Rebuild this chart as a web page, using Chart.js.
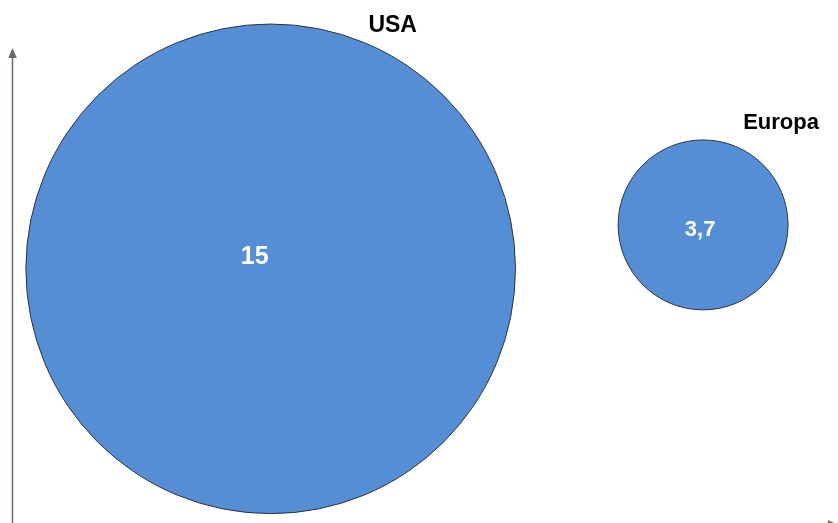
<!DOCTYPE html>
<html>
<head>
<meta charset="utf-8">
<script src="https://cdn.jsdelivr.net/npm/chart.js@4"></script>
<style>
  body { margin: 0; background: #fff; }
  #wrap { width: 838px; height: 523px; }
</style>
</head>
<body>
<div id="wrap"><canvas id="chart"></canvas></div>
<script>
const regions = ["USA", "Europa"];
const values = [15, 3.7];
const valueLabels = ["15", "3,7"];
const xPos = [32.3, 83.9];
const yPos = [48.6, 57.0];

// bubble radius grows with value
function radiusFor(v) {
  return 31.6 * Math.pow(v, 0.756);
}

const points = regions.map((name, i) => ({
  x: xPos[i],
  y: yPos[i],
  r: radiusFor(values[i])
}));

// name and value text offsets from the bubble centre (px)
const nameOffsets = [[122, -237], [78, -96]];
const valueOffsets = [[-16, -5], [-3, 11]];
const nameFonts = ["bold 23px 'Liberation Sans', Arial, sans-serif", "bold 22px 'Liberation Sans', Arial, sans-serif"];
const valueFonts = ["bold 25px 'Liberation Sans', Arial, sans-serif", "bold 22px 'Liberation Sans', Arial, sans-serif"];

const axisArrows = {
  id: "axisArrows",
  beforeDatasetsDraw(c) {
    const ctx = c.ctx;
    ctx.save();
    ctx.strokeStyle = "#6d6862";
    ctx.fillStyle = "#6d6862";
    ctx.lineWidth = 1.5;
    // y axis
    ctx.beginPath();
    ctx.moveTo(12.5, 523);
    ctx.lineTo(12.5, 56);
    ctx.stroke();
    ctx.beginPath();
    ctx.moveTo(12.5, 48);
    ctx.lineTo(8.2, 58);
    ctx.lineTo(16.8, 58);
    ctx.closePath();
    ctx.fill();
    // x axis (mostly below the frame)
    ctx.beginPath();
    ctx.moveTo(12.5, 525);
    ctx.lineTo(828, 525);
    ctx.stroke();
    ctx.beginPath();
    ctx.moveTo(838, 525);
    ctx.lineTo(828, 520);
    ctx.lineTo(828, 530);
    ctx.closePath();
    ctx.fill();
    ctx.restore();
  }
};

const bubbleText = {
  id: "bubbleText",
  afterDatasetsDraw(c) {
    const ctx = c.ctx;
    const meta = c.getDatasetMeta(0);
    ctx.save();
    ctx.textAlign = "center";
    ctx.textBaseline = "alphabetic";
    meta.data.forEach((el, i) => {
      ctx.font = nameFonts[i];
      ctx.fillStyle = "#000";
      ctx.fillText(regions[i], el.x + nameOffsets[i][0], el.y + nameOffsets[i][1]);
      ctx.font = valueFonts[i];
      ctx.fillStyle = "#fff";
      ctx.fillText(valueLabels[i], el.x + valueOffsets[i][0], el.y + valueOffsets[i][1]);
    });
    ctx.restore();
  }
};

new Chart(document.getElementById("chart"), {
  type: "bubble",
  data: {
    labels: regions,
    datasets: [{
      data: points,
      backgroundColor: "#558ed5",
      borderColor: "#2b3440",
      borderWidth: 1,
      hoverRadius: 0,
      hoverBorderWidth: 1,
      clip: false
    }]
  },
  options: {
    responsive: true,
    maintainAspectRatio: false,
    animation: false,
    events: [],
    layout: { padding: 0, autoPadding: false },
    scales: {
      x: { type: "linear", min: 0, max: 100, display: false },
      y: { type: "linear", min: 0, max: 100, display: false }
    },
    plugins: {
      legend: { display: false },
      tooltip: { enabled: false }
    }
  },
  plugins: [axisArrows, bubbleText]
});
</script>
</body>
</html>
